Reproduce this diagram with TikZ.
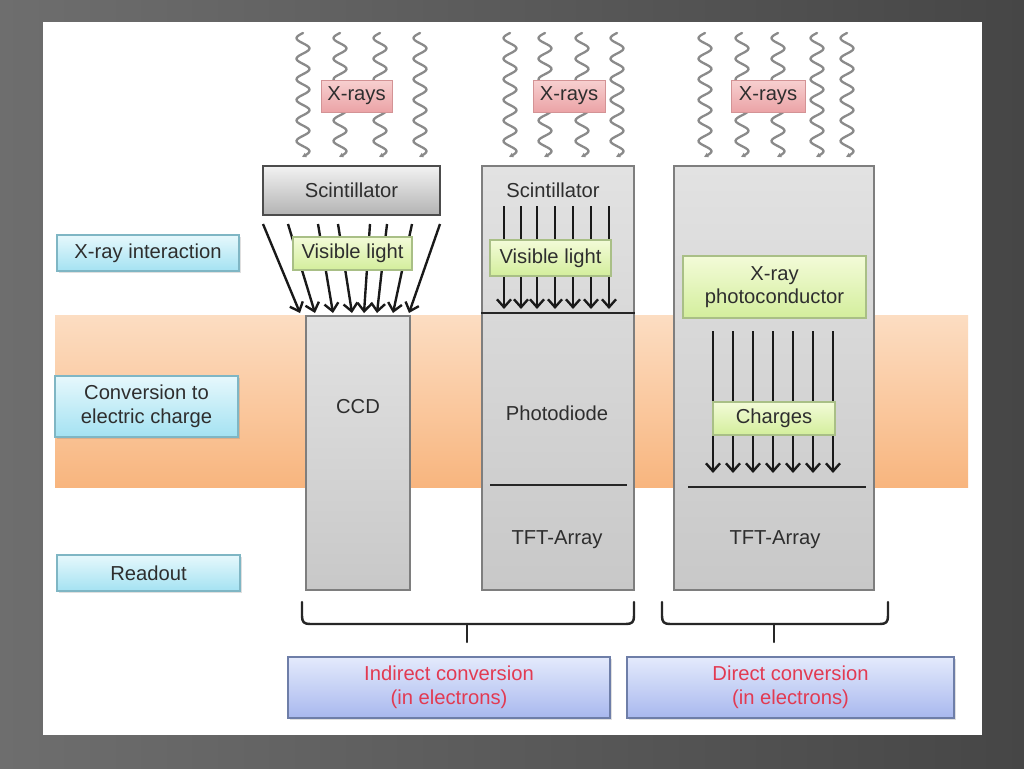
\documentclass[tikz,border=0pt]{standalone}
\usepackage{fontspec}
\setmainfont{Liberation Sans}
\usetikzlibrary{arrows.meta,shadows}
\definecolor{txt}{HTML}{2E2E2E}
\definecolor{redtxt}{HTML}{E23A52}
\definecolor{bgA}{HTML}{6E6E6E}
\definecolor{bgB}{HTML}{464646}
\definecolor{bandT}{HTML}{FCDDC2}
\definecolor{bandB}{HTML}{F8B57E}
\definecolor{cyT}{HTML}{E6F8FC}
\definecolor{cyB}{HTML}{A4E2F2}
\definecolor{cyD}{HTML}{7FB6C4}
\definecolor{grT}{HTML}{F3FBD8}
\definecolor{grB}{HTML}{D3EE9C}
\definecolor{grD}{HTML}{A9BF86}
\definecolor{pkT}{HTML}{F7D0D0}
\definecolor{pkB}{HTML}{EBA3A6}
\definecolor{blT}{HTML}{E4EAFC}
\definecolor{blB}{HTML}{A8B8EE}
\definecolor{blD}{HTML}{6E7EA8}
\definecolor{gyT}{HTML}{E2E2E2}
\definecolor{gyB}{HTML}{C8C8C8}
\definecolor{gyD}{HTML}{7E7E7E}
\definecolor{scT}{HTML}{F2F2F2}
\definecolor{scB}{HTML}{B3B3B3}
\definecolor{waveC}{HTML}{8A8A8A}
\tikzset{
  base/.style={inner sep=0pt, align=center, text=txt},
  sidelabel/.style={base, draw=cyD, line width=0.7pt, top color=cyT, bottom color=cyB,
     drop shadow={shadow xshift=1pt, shadow yshift=-1pt, opacity=0.25}},
  greenlabel/.style={base, draw=grD, line width=0.7pt, top color=grT, bottom color=grB},
  pinklabel/.style={base, draw=pkB!90!black, line width=0.3pt, top color=pkT, bottom color=pkB},
  bluebox/.style={base, text=redtxt, draw=blD, line width=0.8pt, top color=blT, bottom color=blB,
     drop shadow={shadow xshift=1pt, shadow yshift=-1pt, opacity=0.25}},
  column/.style={base, draw=gyD, line width=1pt, top color=gyT, bottom color=gyB},
  scintbox/.style={base, draw=black!70, line width=1pt, top color=scT, bottom color=scB},
  ray/.style={line width=1.35pt, black!90, -{Straight Barb[length=4.5pt,width=8pt,line width=1.35pt]}},
  wave/.style={line width=1.3pt, waveC, line cap=round, -{Latex[length=2.5pt,width=3pt]}},
  divider/.style={line width=1.2pt, black!85},
  bracket/.style={line width=1.4pt, black!85, line cap=round, line join=round},
}
\begin{document}
\begin{tikzpicture}[x=0.02cm, y=-0.02cm, font=\fontsize{11.5}{13.5}\selectfont]
\useasboundingbox (0,0) rectangle (1024,768);
% slide background
\shade[left color=bgA, right color=bgB] (0,0) rectangle (1024,768);
\fill[white] (43,22) rectangle (982,735);
% orange band
\shade[top color=bandT, bottom color=bandB] (55,315) rectangle (968,487);

% X-ray waves
\foreach \wx in {303,340,380,420,510,545,582,617,705,742,778,817,847}
  \draw[wave] plot[domain=0:124, samples=100, smooth, variable=\t] ({\wx-6.5*sin(17.5*\t)},{33+\t});
\node[pinklabel, minimum width=1.42cm, minimum height=0.64cm] (xr1) at (356.5,96) {X-rays};
\node[pinklabel, minimum width=1.44cm, minimum height=0.64cm] (xr2) at (569,96) {X-rays};
\node[pinklabel, minimum width=1.48cm, minimum height=0.64cm] (xr3) at (768,96) {X-rays};

% side labels
\node[sidelabel, minimum width=3.64cm, minimum height=0.72cm] (lab1) at (148,253) {X-ray interaction};
\node[sidelabel, minimum width=3.66cm, minimum height=1.22cm] (lab2) at (146.5,406.5) {Conversion to\\electric charge};
\node[sidelabel, minimum width=3.66cm, minimum height=0.72cm] (lab3) at (148.5,573) {Readout};

% column 1 : scintillator + CCD
\node[scintbox, minimum width=3.54cm, minimum height=0.98cm] (scint1) at (351.5,190.5) {Scintillator};
\node[column, minimum width=2.08cm, minimum height=5.48cm] (ccd) at (358,453) {};
\node[base] (ccdt) at (358,407) {CCD};
\foreach \sx/\ex in {263/300,288/315,318/333,338/352,370/364,387/377,412/393,440/409}
  \draw[ray] (\sx,224) -- (\ex,313);
\node[greenlabel, minimum width=2.38cm, minimum height=0.66cm] (vis1) at (352.5,253.5) {Visible light};

% column 2 : scintillator + photodiode + TFT
\node[column, minimum width=3.04cm, minimum height=8.48cm] (col2) at (558,378) {};
\node[base] (sc2) at (553,190) {Scintillator};
\draw[divider] (col2.west |- 0,313) -- (col2.east |- 0,313);
\draw[divider] (490,485) -- (627,485);
\foreach \ax in {504,521,537,555,573,591,609}
  \draw[ray] (\ax,206) -- (\ax,309);
\node[greenlabel, minimum width=2.42cm, minimum height=0.72cm] (vis2) at (550.5,258) {Visible light};
\node[base] (pd) at (557,413) {Photodiode};
\node[base] (tft2) at (557,540) {TFT-Array};

% column 3 : photoconductor + TFT
\node[column, minimum width=4.0cm, minimum height=8.48cm] (col3) at (774,378) {};
\node[greenlabel, minimum width=3.66cm, minimum height=1.24cm] (pc) at (774.5,287) {X-ray\\photoconductor};
\foreach \ax in {713,733,753,773,793,813,833}
  \draw[ray] (\ax,331) -- (\ax,473);
\node[greenlabel, minimum width=2.44cm, minimum height=0.66cm] (chg) at (774,418.5) {Charges};
\draw[divider] (688,487) -- (866,487);
\node[base] (tft3) at (775,540) {TFT-Array};

% braces
\draw[bracket] (302,602) -- (302,616) .. controls (302,622) and (304,624) .. (310,624)
  -- (626,624) .. controls (632,624) and (634,622) .. (634,616) -- (634,602);
\draw[bracket] (467,624) -- (467,642);
\draw[bracket] (662,602) -- (662,616) .. controls (662,622) and (664,624) .. (670,624)
  -- (880,624) .. controls (886,624) and (888,622) .. (888,616) -- (888,602);
\draw[bracket] (774,624) -- (774,642);

% bottom boxes
\node[bluebox, minimum width=6.44cm, minimum height=1.22cm] (ind) at (449,687.5) {Indirect conversion\\(in electrons)};
\node[bluebox, minimum width=6.54cm, minimum height=1.22cm] (dir) at (790.5,687.5) {Direct conversion\\(in electrons)};
\end{tikzpicture}
\end{document}
